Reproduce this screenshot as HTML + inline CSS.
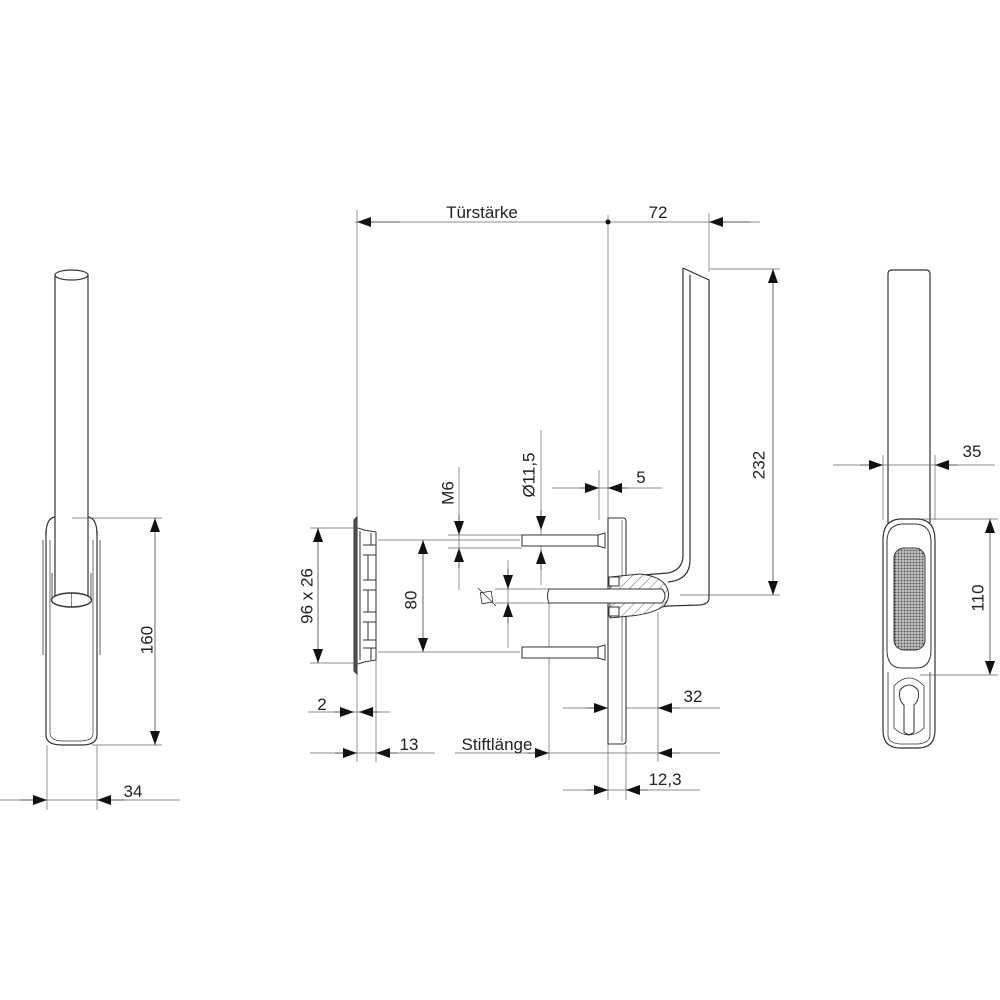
<!DOCTYPE html>
<html><head><meta charset="utf-8"><style>
html,body{margin:0;padding:0;background:#fff;}
svg{display:block;}
text{font-family:"Liberation Sans",sans-serif;font-size:17px;fill:#222;}
</style></head><body>
<svg width="1000" height="1000" viewBox="0 0 1000 1000" xmlns="http://www.w3.org/2000/svg">
<defs>
<marker id="a" viewBox="0 0 14 10" refX="14" refY="5" markerWidth="14" markerHeight="10" markerUnits="userSpaceOnUse" orient="auto"><path d="M0,0 L14,5 L0,10 Z" fill="#111"/></marker>
<pattern id="dots" width="3" height="3" patternUnits="userSpaceOnUse"><rect width="3" height="3" fill="#ddd"/><rect x="0.5" y="0.5" width="2" height="2" fill="#555"/></pattern>
<pattern id="hatch" width="7" height="7" patternUnits="userSpaceOnUse" patternTransform="rotate(45)"><rect width="7" height="7" fill="#fff"/><line x1="0" y1="0" x2="0" y2="7" stroke="#444" stroke-width="0.8"/></pattern>
</defs>

<!-- ===== LEFT VIEW ===== -->
<g fill="none" stroke="#333" stroke-width="1.2">
<path d="M55,275 L55,598 M88,275 L88,598"/>
<ellipse cx="71.5" cy="275" rx="16.5" ry="5" fill="#fff"/>
<path d="M46,535 Q46,518 55,517 M97,535 Q97,518 88,517"/>
<path d="M46,530 L46,735 Q46,745 62,745 L82,745 Q97,745 97,735 L97,530"/>
<path d="M50,540 L50,733 Q50,741 64,741 L80,741 Q93,741 93,733 L93,540" stroke-width="0.7"/>
<path d="M43,540 L43,655 M100,540 L100,655" stroke-width="0.8"/>
<path d="M52,573 L52,598 M91,573 L91,598" stroke-width="0.8"/>
<ellipse cx="71.5" cy="600" rx="20" ry="7" fill="#fff" stroke-width="1.4"/>
<line x1="71.5" y1="593" x2="71.5" y2="607" stroke-width="0.6"/>
</g>
<g stroke="#666" stroke-width="0.7" fill="none">
<line x1="72" y1="518" x2="162" y2="518"/>
<line x1="92" y1="745" x2="162" y2="745"/>
<line x1="47" y1="745" x2="47" y2="810"/>
<line x1="97" y1="745" x2="97" y2="810"/>
<line x1="0" y1="800" x2="180" y2="800"/>
</g>
<g stroke="#444" stroke-width="0.8" fill="none">
<line x1="155" y1="630" x2="155" y2="518" marker-end="url(#a)"/>
<line x1="155" y1="630" x2="155" y2="745" marker-end="url(#a)"/>
<line x1="20" y1="800" x2="47" y2="800" marker-end="url(#a)"/>
<line x1="125" y1="800" x2="97" y2="800" marker-end="url(#a)"/>
</g>
<text x="148" y="640" text-anchor="middle" transform="rotate(-90 148 640)" dominant-baseline="middle">160</text>
<text x="133" y="797" text-anchor="middle">34</text>

<!-- ===== CENTER VIEW ===== -->
<g stroke="#666" stroke-width="0.7" fill="none">
<line x1="357" y1="210" x2="357" y2="762"/>
<line x1="608" y1="215" x2="608" y2="800"/>
<line x1="709" y1="213" x2="709" y2="272"/>
<line x1="355" y1="222" x2="760" y2="222"/>
<line x1="710" y1="269" x2="780" y2="269"/>
<line x1="680" y1="595" x2="780" y2="595"/>
<line x1="310" y1="528" x2="358" y2="528"/>
<line x1="310" y1="663" x2="358" y2="663"/>
<line x1="378" y1="540" x2="520" y2="540"/>
<line x1="378" y1="652" x2="520" y2="652"/>
<line x1="448" y1="535" x2="522" y2="535"/>
<line x1="448" y1="548" x2="522" y2="548"/>
<line x1="459" y1="467" x2="459" y2="590"/>
<line x1="541" y1="430" x2="541" y2="585"/>
<line x1="599" y1="470" x2="599" y2="520"/>
<line x1="552" y1="488" x2="662" y2="488"/>
<line x1="495" y1="589" x2="549" y2="589"/>
<line x1="495" y1="603" x2="549" y2="603"/>
<line x1="508" y1="560" x2="508" y2="648"/>
<line x1="308" y1="712" x2="390" y2="712"/>
<line x1="310" y1="753" x2="435" y2="753"/>
<line x1="376" y1="660" x2="376" y2="762"/>
<line x1="455" y1="753" x2="720" y2="753"/>
<line x1="549" y1="603" x2="549" y2="760"/>
<line x1="563" y1="708" x2="720" y2="708"/>
<line x1="658" y1="612" x2="658" y2="762"/>
<line x1="563" y1="790" x2="700" y2="790"/>
<line x1="626" y1="745" x2="626" y2="800"/>
</g>
<circle cx="608" cy="222" r="2.5" fill="#111"/>
<g stroke="#444" stroke-width="0.8" fill="none">
<line x1="400" y1="222" x2="357" y2="222" marker-end="url(#a)"/>
<line x1="750" y1="222" x2="709" y2="222" marker-end="url(#a)"/>
<line x1="773" y1="430" x2="773" y2="269" marker-end="url(#a)"/>
<line x1="773" y1="430" x2="773" y2="595" marker-end="url(#a)"/>
<line x1="318" y1="596" x2="318" y2="528" marker-end="url(#a)"/>
<line x1="318" y1="596" x2="318" y2="663" marker-end="url(#a)"/>
<line x1="423" y1="596" x2="423" y2="540" marker-end="url(#a)"/>
<line x1="423" y1="596" x2="423" y2="652" marker-end="url(#a)"/>
<line x1="459" y1="515" x2="459" y2="535" marker-end="url(#a)"/>
<line x1="459" y1="568" x2="459" y2="548" marker-end="url(#a)"/>
<line x1="541" y1="510" x2="541" y2="530" marker-end="url(#a)"/>
<line x1="541" y1="570" x2="541" y2="550" marker-end="url(#a)"/>
<line x1="580" y1="488" x2="599" y2="488" marker-end="url(#a)"/>
<line x1="628" y1="488" x2="608" y2="488" marker-end="url(#a)"/>
<line x1="508" y1="569" x2="508" y2="589" marker-end="url(#a)"/>
<line x1="508" y1="623" x2="508" y2="603" marker-end="url(#a)"/>
<line x1="334" y1="712" x2="354" y2="712" marker-end="url(#a)"/>
<line x1="379" y1="712" x2="359" y2="712" marker-end="url(#a)"/>
<line x1="335" y1="753" x2="357" y2="753" marker-end="url(#a)"/>
<line x1="398" y1="753" x2="376" y2="753" marker-end="url(#a)"/>
<line x1="527" y1="753" x2="549" y2="753" marker-end="url(#a)"/>
<line x1="680" y1="753" x2="658" y2="753" marker-end="url(#a)"/>
<line x1="586" y1="708" x2="608" y2="708" marker-end="url(#a)"/>
<line x1="680" y1="708" x2="658" y2="708" marker-end="url(#a)"/>
<line x1="586" y1="790" x2="608" y2="790" marker-end="url(#a)"/>
<line x1="648" y1="790" x2="626" y2="790" marker-end="url(#a)"/>
</g>
<g stroke="#333" stroke-width="0.8" fill="none">
<rect x="481" y="592" width="11" height="11" transform="rotate(-8 486 597)"/>
<line x1="478" y1="588" x2="496" y2="606"/>
</g>

<g stroke="#333" stroke-width="1" fill="none">
<path d="M354,520 L357,517 L357,674 L354,671 Z" fill="#555"/>
<path d="M358,528 L364,530 L376,532 L376,660 L364,662 L358,664"/>
<path d="M360,531 L360,660 M363,545 L376,545 M363,555 L376,555 M363,580 L376,580 M363,590 L376,590 M363,612 L376,612 M363,622 L376,622 M363,640 L376,640 M363,648 L376,648"/>
<path d="M368,555 L368,580 M368,590 L368,612 M368,622 L368,640 M371,533 L371,545 M371,648 L371,660"/>
</g>
<g stroke="#333" stroke-width="1" fill="#fff">
<path d="M522,535 L598,535 L605,533 L605,548 L598,546 L522,546 Z"/>
<path d="M522,647 L598,647 L605,645 L605,660 L598,658 L522,658 Z"/>
<line x1="598" y1="535" x2="598" y2="546"/>
<line x1="598" y1="647" x2="598" y2="658"/>
</g>
<g stroke="#333" stroke-width="1.1" fill="#fff">
<path d="M608,518 L623,518 Q626,518 626,522 L626,740 Q626,744 623,744 L608,744 Z"/>
<line x1="622" y1="520" x2="622" y2="742" stroke-width="0.6"/>
</g>
<g stroke="#333" stroke-width="1.2" fill="none">
<path d="M683,268 L709,280 L709,598 Q709,604 700,605 L668,606 Q650,608 628,615"/>
<path d="M683,268 L683,555 Q683,570 668,573 L630,576"/>
<path d="M690,275 L690,560 Q690,580 668,582"/>
</g>
<path d="M610,577 L640,574 Q660,576 666,586 Q672,596 664,606 Q652,614 630,616 L610,618 Z" fill="url(#hatch)" stroke="#333" stroke-width="1"/>
<g stroke="#333" stroke-width="1" fill="#fff">
<rect x="609" y="577" width="10" height="9"/>
<rect x="609" y="607" width="10" height="9"/>
<path d="M549,589 L662,589 Q668,596 662,603 L549,603 Q546,596 549,589 Z"/>
</g>

<text x="482" y="218" text-anchor="middle">Türstärke</text>
<text x="658" y="218" text-anchor="middle">72</text>
<text x="760" y="465" text-anchor="middle" transform="rotate(-90 760 465)" dominant-baseline="middle">232</text>
<text x="449" y="493" text-anchor="middle" transform="rotate(-90 449 493)" dominant-baseline="middle">M6</text>
<text x="530" y="475" text-anchor="middle" transform="rotate(-90 530 475)" dominant-baseline="middle">Ø11,5</text>
<text x="641" y="483" text-anchor="middle">5</text>
<text x="308" y="596" text-anchor="middle" transform="rotate(-90 308 596)" dominant-baseline="middle">96 x 26</text>
<text x="412" y="600" text-anchor="middle" transform="rotate(-90 412 600)" dominant-baseline="middle">80</text>
<text x="322" y="710" text-anchor="middle">2</text>
<text x="409" y="750" text-anchor="middle">13</text>
<text x="497" y="750" text-anchor="middle">Stiftlänge</text>
<text x="693" y="702" text-anchor="middle">32</text>
<text x="665" y="785" text-anchor="middle">12,3</text>

<!-- ===== RIGHT VIEW ===== -->
<g stroke="#333" stroke-width="1.2" fill="none">
<path d="M888,523 L888,274 Q888,270 892,270 L926,270 Q930,270 930,274 L930,523"/>
<path d="M883,540 Q883,520 900,519 L918,519 Q935,520 935,540 L935,730 Q935,748 918,748 L900,748 Q883,748 883,730 Z" fill="#fff"/>
<path d="M887,542 Q887,525 902,524 L916,524 Q931,525 931,542 L931,650 Q931,668 916,668 L902,668 Q887,668 887,650 Z" stroke-width="1"/>
<rect x="894" y="548" width="31" height="102" rx="10" fill="url(#dots)" stroke-width="1"/>
<path d="M888,672 L888,735 Q888,743 900,744 L918,744 Q930,743 930,735 L930,672" stroke-width="0.8"/>
<path d="M900,690 Q909,680 918,690 Q920,700 914,705 L914,732 Q909,737 904,732 L904,705 Q898,700 900,690 Z" stroke-width="1"/>
<path d="M894,686 Q909,670 924,686 L924,728 Q909,742 894,728 Z" stroke-width="0.8"/>
</g>
<g stroke="#666" stroke-width="0.7" fill="none">
<line x1="883" y1="455" x2="883" y2="520"/>
<line x1="935" y1="455" x2="935" y2="520"/>
<line x1="833" y1="465" x2="995" y2="465"/>
<line x1="920" y1="519" x2="998" y2="519"/>
<line x1="920" y1="675" x2="998" y2="675"/>
</g>
<g stroke="#444" stroke-width="0.8" fill="none">
<line x1="860" y1="465" x2="883" y2="465" marker-end="url(#a)"/>
<line x1="958" y1="465" x2="935" y2="465" marker-end="url(#a)"/>
<line x1="990" y1="597" x2="990" y2="519" marker-end="url(#a)"/>
<line x1="990" y1="597" x2="990" y2="675" marker-end="url(#a)"/>
</g>
<text x="972" y="457" text-anchor="middle">35</text>
<text x="979" y="598" text-anchor="middle" transform="rotate(-90 979 598)" dominant-baseline="middle">110</text>
</svg>
</body></html>
